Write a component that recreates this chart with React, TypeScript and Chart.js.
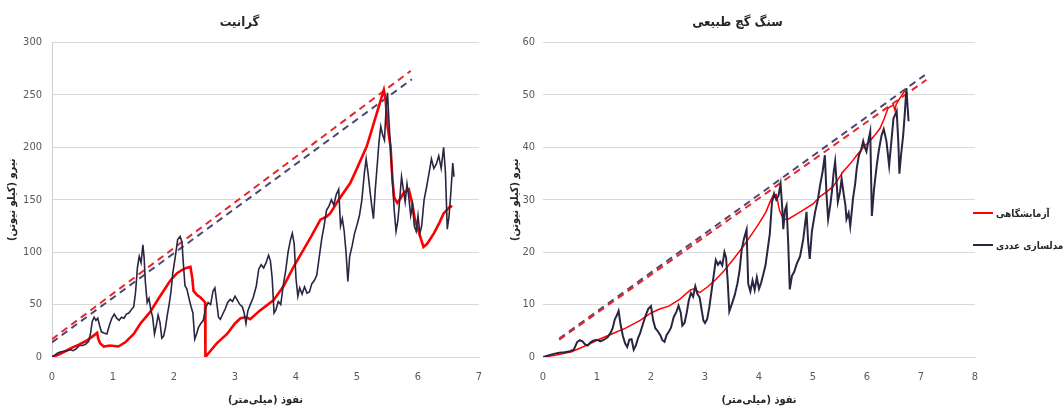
import React, { useEffect, useRef } from "react";
import { Chart, registerables } from "chart.js";

Chart.register(...registerables);

// ---------- text ----------
const chartTitles = ["گرانیت", "سنگ گچ طبیعی"];
const seriesNames = ["آزمایشگاهی", "مدلسازی عددی"];
const xAxisTitle = "نفوذ (میلی\u200cمتر)";
const yAxisTitle = "نیرو (کیلو نیوتن)";

// ---------- tick labels ----------
const graniteXTicks = [0, 1, 2, 3, 4, 5, 6, 7];
const graniteYTicks = [0, 50, 100, 150, 200, 250, 300];
const gypsumXTicks = [0, 1, 2, 3, 4, 5, 6, 7, 8];
const gypsumYTicks = [0, 10, 20, 30, 40, 50, 60];

// ---------- granite: laboratory ----------
const graniteLabX = [0,0.1,0.2,0.33,0.45,0.55,0.65,0.74,0.76,0.79,0.85,0.95,1.09,1.2,1.34,1.45,1.61,1.75,1.94,2.05,2.13,2.2,2.27,2.3,2.32,2.38,2.43,2.48,2.51,2.515,2.6,2.7,2.87,3.0,3.09,3.18,3.25,3.4,3.63,3.8,3.96,4.1,4.25,4.4,4.5,4.56,4.7,4.89,5.0,5.16,5.3,5.44,5.47,5.5,5.55,5.58,5.61,5.66,5.72,5.77,5.85,5.9,5.95,6.02,6.09,6.15,6.26,6.35,6.42,6.53,6.56];
const graniteLabY = [0,2,5,9,12,15,19,23,17,13,10,11,10,14,22,32,43,56,73,80,83,85,86,75,63,59,57,54,52,0,6,13,22,32,37,38,36,44,54,68,86,100,115,131,134,137,150,166,180,201,228,255,245,220,201,170,152,147,152,157,160,148,131,118,105,108,118,128,137,144,143];

// ---------- granite: numerical ----------
const graniteNumX = [0,0.05,0.1,0.15,0.2,0.25,0.3,0.35,0.4,0.45,0.5,0.55,0.6,0.63,0.66,0.69,0.72,0.75,0.78,0.81,0.85,0.9,0.94,0.98,1.02,1.06,1.1,1.14,1.18,1.22,1.26,1.3,1.34,1.37,1.4,1.43,1.46,1.49,1.51,1.53,1.56,1.59,1.62,1.65,1.68,1.71,1.74,1.77,1.8,1.83,1.86,1.89,1.92,1.95,1.98,2.02,2.06,2.1,2.13,2.15,2.18,2.21,2.25,2.28,2.31,2.34,2.37,2.4,2.44,2.48,2.52,2.56,2.6,2.64,2.67,2.7,2.73,2.76,2.8,2.84,2.88,2.92,2.96,3.0,3.04,3.08,3.12,3.15,3.18,3.21,3.25,3.3,3.35,3.39,3.43,3.47,3.51,3.55,3.58,3.61,3.64,3.67,3.71,3.75,3.79,3.83,3.87,3.91,3.94,3.97,4.0,4.03,4.06,4.1,4.14,4.18,4.22,4.26,4.3,4.34,4.38,4.42,4.46,4.5,4.54,4.58,4.62,4.66,4.7,4.73,4.76,4.79,4.82,4.85,4.88,4.92,4.96,5.0,5.04,5.08,5.12,5.15,5.18,5.21,5.24,5.27,5.3,5.33,5.36,5.39,5.42,5.45,5.48,5.5,5.52,5.55,5.58,5.61,5.64,5.67,5.7,5.73,5.76,5.79,5.82,5.85,5.88,5.91,5.94,5.97,6.0,6.03,6.06,6.1,6.14,6.18,6.22,6.26,6.3,6.34,6.38,6.42,6.45,6.48,6.51,6.54,6.57,6.59];
const graniteNumY = [0,2,4,5,5.5,6,7,6,8,11,11,12,15,22,34,38,35,37,30,24,23,22,30,37,41,37,35,38,37,41,42,45,48,62,85,96,90,107,95,72,52,56,45,38,22,30,40,33,18,20,28,40,50,62,80,95,112,115,110,92,68,65,55,48,42,17,22,28,32,35,47,52,50,63,66,52,38,36,41,46,52,55,53,58,54,50,48,42,32,44,50,57,68,84,88,85,90,97,92,75,42,45,53,50,68,82,100,112,118,108,75,58,66,60,67,61,62,70,73,78,95,112,125,140,144,150,145,155,160,125,132,120,100,72,96,106,118,126,135,150,175,189,176,160,145,132,160,182,205,220,212,207,240,252,230,198,170,140,120,130,150,172,160,148,165,152,135,145,125,120,135,118,125,150,162,175,189,180,184,192,180,200,176,122,135,158,185,172];

// ---------- granite: dashed envelope lines ----------
const graniteLabTrendX = [0, 5.88];
const graniteLabTrendY = [17, 273];
const graniteNumTrendX = [0, 5.9];
const graniteNumTrendY = [14, 265];

// ---------- gypsum: laboratory ----------
const gypsumLabX = [0,0.2,0.53,0.8,1.0,1.25,1.53,1.8,2.0,2.15,2.33,2.53,2.73,2.8,2.9,3.05,3.2,3.35,3.53,3.7,3.87,4.0,4.13,4.2,4.26,4.32,4.38,4.45,4.54,4.75,5.0,5.13,5.25,5.37,5.47,5.56,5.7,5.81,5.93,6.05,6.15,6.24,6.32,6.39,6.49,6.52,6.54,6.61,6.7];
const gypsumLabY = [0,0.3,1,2.2,3.2,4.3,5.5,7,8.4,9.1,9.7,11,12.8,13,12.3,13.4,14.8,16.4,18.7,21,23.5,25.5,27.7,29.5,30.8,31,28,26.3,26.3,27.6,29.2,30.6,31.5,32.5,34,35.4,37,38.5,40,41.2,42.4,43.6,45.5,47.5,48.1,47,48.2,49.4,50.8];

// ---------- gypsum: numerical ----------
const gypsumNumX = [0,0.1,0.2,0.3,0.4,0.5,0.57,0.63,0.68,0.73,0.78,0.83,0.88,0.93,1.0,1.06,1.13,1.2,1.25,1.29,1.33,1.37,1.4,1.44,1.48,1.52,1.56,1.6,1.64,1.68,1.72,1.76,1.8,1.85,1.9,1.95,2.0,2.04,2.08,2.12,2.17,2.21,2.25,2.29,2.33,2.37,2.42,2.47,2.51,2.55,2.58,2.62,2.66,2.7,2.74,2.78,2.82,2.86,2.9,2.93,2.97,3.0,3.04,3.08,3.12,3.16,3.2,3.24,3.28,3.32,3.36,3.39,3.42,3.45,3.5,3.55,3.6,3.64,3.68,3.72,3.77,3.8,3.84,3.88,3.92,3.96,4.0,4.04,4.08,4.12,4.16,4.2,4.24,4.28,4.32,4.36,4.4,4.43,4.45,4.48,4.51,4.54,4.57,4.61,4.65,4.7,4.76,4.82,4.88,4.91,4.94,4.98,5.04,5.09,5.13,5.18,5.22,5.25,5.28,5.32,5.35,5.38,5.41,5.44,5.46,5.5,5.53,5.57,5.6,5.62,5.66,5.69,5.72,5.74,5.78,5.81,5.85,5.89,5.93,5.96,5.99,6.03,6.06,6.09,6.13,6.18,6.22,6.27,6.31,6.36,6.41,6.45,6.49,6.55,6.58,6.6,6.63,6.67,6.7,6.73,6.75,6.77];
const gypsumNumY = [0,0.3,0.6,0.8,0.9,1.1,1.4,2.8,3.2,3.0,2.4,2.2,2.8,3.1,3.3,3.0,3.3,3.8,4.6,5.5,7.2,8.0,8.8,6.0,4.0,2.6,1.9,3.3,3.4,1.4,2.2,3.6,4.6,6.3,7.9,9.2,9.7,7.0,5.5,5.0,4.2,3.2,2.9,4.2,4.8,5.6,7.6,8.6,9.8,8.5,6.0,6.5,8.4,10.8,12.2,11.5,13.5,12.0,11.4,9.5,7.0,6.5,7.2,9.5,12.5,15.5,18.5,17.6,18.2,17.5,20.0,19.0,14.5,8.7,10.2,11.8,14.0,16.5,20.5,22.5,24.3,14.0,12.5,14.6,12.8,15.2,13.0,14.2,15.8,17.5,20.5,23.5,29.5,31.2,30.0,30.8,33.0,28.5,24.4,28.0,28.9,22.0,12.9,15.5,16.2,17.8,19.2,22.5,27.7,22.0,18.7,24.0,27.7,30.0,32.7,35.5,38.5,31.0,26.3,29.0,31.5,35.0,37.3,33.0,29.6,31.5,34.0,31.0,29.0,26.3,27.5,25.0,28.0,30.2,33.0,36.0,38.5,39.5,41.2,40.0,39.2,41.5,43.0,26.9,32.0,36.5,39.5,42.3,43.5,41.2,36.5,41.0,45.5,46.9,41.0,35.0,38.5,42.3,46.5,51.3,48.0,45.0];

// ---------- gypsum: dashed envelope lines ----------
const gypsumLabTrendX = [0.3, 7.1];
const gypsumLabTrendY = [3.3, 52.9];
const gypsumNumTrendX = [0.3, 7.07];
const gypsumNumTrendY = [3.5, 53.8];

// ---------- styling ----------
const LAB_COLOR = "#FF0000";
const NUM_COLOR = "#2B2541";
const LAB_DASH_COLOR = "#E8252B";
const NUM_DASH_COLOR = "#4E4870";
const GRID_COLOR = "#D9D9D9";
const TICK_COLOR = "#595959";
const NUM_FONT = "'Liberation Sans Narrow', 'DejaVu Sans Condensed', sans-serif";
const FA_FONT = "'DejaVu Sans Condensed', 'DejaVu Sans', sans-serif";

const pts = (xs: number[], ys: number[]) => xs.map((x, i) => ({ x, y: ys[i] }));

type PanelSpec = {
  title: string;
  labX: number[]; labY: number[]; labWidth: number;
  numX: number[]; numY: number[]; numWidth: number;
  labTX: number[]; labTY: number[];
  numTX: number[]; numTY: number[];
  xTicks: number[]; yTicks: number[];
  yAxisWidth: number; yTickPad: number; yTitlePad: number;
  padRight: number; showYBorder: boolean;
};

function buildConfig(p: PanelSpec): any {
  return {
    type: "line",
    data: {
      datasets: [
        { label: seriesNames[1], data: pts(p.numX, p.numY), borderColor: NUM_COLOR, borderWidth: p.numWidth, pointRadius: 0, tension: 0, fill: false, order: 1 },
        { label: seriesNames[0], data: pts(p.labX, p.labY), borderColor: LAB_COLOR, borderWidth: p.labWidth, pointRadius: 0, tension: 0, fill: false, order: 2 },
        { label: "lab-envelope", data: pts(p.labTX, p.labTY), borderColor: LAB_DASH_COLOR, borderWidth: 2, borderDash: [7, 5], pointRadius: 0, fill: false, order: 3 },
        { label: "num-envelope", data: pts(p.numTX, p.numTY), borderColor: NUM_DASH_COLOR, borderWidth: 2, borderDash: [7, 5], pointRadius: 0, fill: false, order: 4 },
      ],
    },
    options: {
      responsive: false,
      animation: false,
      devicePixelRatio: 1,
      layout: { padding: { left: 0, right: p.padRight, top: 0, bottom: 0 } },
      plugins: {
        legend: { display: false },
        tooltip: { enabled: false },
        title: {
          display: true,
          text: p.title,
          color: "#262626",
          font: { family: FA_FONT, size: 13, weight: "bold" },
          padding: { top: 15, bottom: 12 },
        },
      },
      scales: {
        x: {
          type: "linear",
          min: p.xTicks[0],
          max: p.xTicks[p.xTicks.length - 1],
          ticks: { stepSize: p.xTicks[1] - p.xTicks[0], padding: 14, color: TICK_COLOR, font: { family: NUM_FONT, size: 11 } },
          grid: { display: false, drawTicks: false },
          border: { display: true, color: GRID_COLOR, width: 1 },
          title: { display: true, text: xAxisTitle, color: "#262626", font: { family: FA_FONT, size: 11, weight: "bold" }, padding: { top: 0, bottom: 7 } },
          afterFit: (s: any) => { s.height = 57; },
        },
        y: {
          type: "linear",
          min: p.yTicks[0],
          max: p.yTicks[p.yTicks.length - 1],
          ticks: { stepSize: p.yTicks[1] - p.yTicks[0], padding: p.yTickPad, color: TICK_COLOR, font: { family: NUM_FONT, size: 11 } },
          grid: { color: GRID_COLOR, drawTicks: false, lineWidth: 1 },
          border: { display: p.showYBorder, color: "#CFCFCF", width: 1 },
          title: { display: true, text: yAxisTitle, color: "#262626", font: { family: FA_FONT, size: 11, weight: "bold" }, padding: { top: p.yTitlePad, bottom: 0 } },
          afterFit: (s: any) => { s.width = p.yAxisWidth; },
        },
      },
    },
  };
}

const granitePanel: PanelSpec = {
  title: chartTitles[0],
  labX: graniteLabX, labY: graniteLabY, labWidth: 2.6,
  numX: graniteNumX, numY: graniteNumY, numWidth: 1.6,
  labTX: graniteLabTrendX, labTY: graniteLabTrendY,
  numTX: graniteNumTrendX, numTY: graniteNumTrendY,
  xTicks: graniteXTicks, yTicks: graniteYTicks,
  yAxisWidth: 52, yTickPad: 10, yTitlePad: 6,
  padRight: 21, showYBorder: true,
};

const gypsumPanel: PanelSpec = {
  title: chartTitles[1],
  labX: gypsumLabX, labY: gypsumLabY, labWidth: 1.5,
  numX: gypsumNumX, numY: gypsumNumY, numWidth: 2,
  labTX: gypsumLabTrendX, labTY: gypsumLabTrendY,
  numTX: gypsumNumTrendX, numTY: gypsumNumTrendY,
  xTicks: gypsumXTicks, yTicks: gypsumYTicks,
  yAxisWidth: 43, yTickPad: 8, yTitlePad: 9,
  padRight: 89, showYBorder: false,
};

function Panel({ spec, left, width }: { spec: PanelSpec; left: number; width: number }) {
  const ref = useRef<HTMLCanvasElement | null>(null);
  useEffect(() => {
    if (!ref.current) return;
    const chart = new Chart(ref.current, buildConfig(spec));
    return () => chart.destroy();
  }, [spec]);
  return (
    <canvas
      ref={ref}
      dir="rtl"
      width={width}
      height={414}
      style={{ position: "absolute", left, top: 0, width, height: 414 }}
    />
  );
}

function LegendRow({ color, label, top }: { color: string; label: string; top: number }) {
  return (
    <div style={{ position: "absolute", left: 973, top, height: 16, display: "flex", alignItems: "center", whiteSpace: "nowrap" }}>
      <div style={{ width: 20, height: 2, background: color }} />
      <span dir="rtl" style={{ marginLeft: 3, fontFamily: FA_FONT, fontSize: 10, fontWeight: "bold", color: "#262626" }}>{label}</span>
    </div>
  );
}

export default function App() {
  return (
    <div style={{ position: "fixed", left: 0, top: 0, width: 1064, height: 414, background: "#FFFFFF", overflow: "hidden" }}>
      <Panel spec={granitePanel} left={0} width={500} />
      <Panel spec={gypsumPanel} left={500} width={564} />
      <LegendRow color={LAB_COLOR} label={seriesNames[0]} top={205} />
      <LegendRow color={NUM_COLOR} label={seriesNames[1]} top={237} />
    </div>
  );
}
